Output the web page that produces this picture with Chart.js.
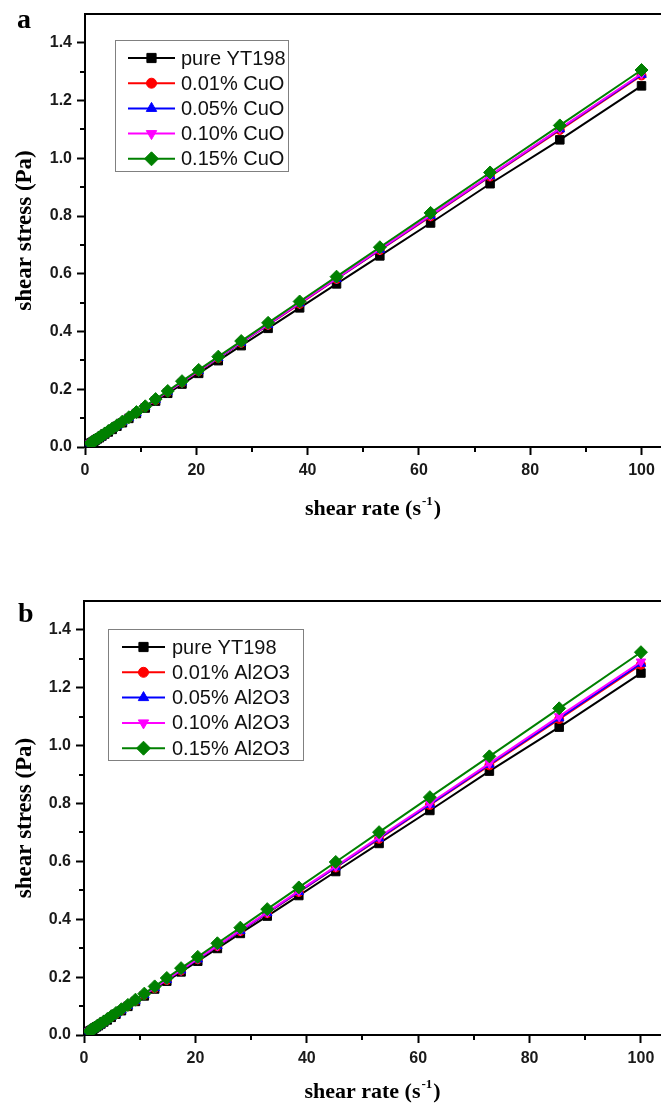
<!DOCTYPE html>
<html>
<head>
<meta charset="utf-8">
<title>Shear stress vs shear rate</title>
<script src="https://cdn.jsdelivr.net/npm/chart.js@4.4.0/dist/chart.umd.min.js"></script>
<style>
  html, body { margin: 0; padding: 0; background: #fff; }
  #wrap { position: relative; width: 661px; height: 1107px; overflow: hidden; }
  canvas { position: absolute; left: 0; }
  #chartCuO { top: 0; }
  #chartAl { top: 553px; }
</style>
</head>
<body>
<div id="wrap">
  <canvas id="chartCuO" width="661" height="553"></canvas>
  <canvas id="chartAl" width="661" height="554"></canvas>
</div>
<script>
// shear rate sweep used for every sample (s^-1)
const shearRate = [1.00, 1.17, 1.37, 1.61, 1.89, 2.21, 2.59, 3.04, 3.56, 4.18,
                   4.89, 5.74, 6.72, 7.88, 9.24, 10.83, 12.69, 14.87, 17.43, 20.43,
                   23.95, 28.07, 32.90, 38.57, 45.20, 52.98, 62.10, 72.79, 85.32, 100.0];

// shear stress (Pa)
const pureYT198 = [0.013, 0.015, 0.017, 0.020, 0.024, 0.028, 0.032, 0.038, 0.045, 0.052,
                   0.061, 0.072, 0.084, 0.099, 0.116, 0.135, 0.159, 0.186, 0.218, 0.255,
                   0.299, 0.351, 0.411, 0.482, 0.565, 0.662, 0.776, 0.912, 1.064, 1.251];

const cuo001 = [0.013, 0.015, 0.018, 0.021, 0.024, 0.028, 0.033, 0.039, 0.046, 0.054,
                0.063, 0.074, 0.086, 0.101, 0.119, 0.139, 0.163, 0.191, 0.224, 0.263,
                0.308, 0.361, 0.423, 0.496, 0.582, 0.682, 0.799, 0.937, 1.098, 1.287];
const cuo005 = [0.013, 0.015, 0.018, 0.021, 0.024, 0.029, 0.033, 0.039, 0.046, 0.054,
                0.063, 0.074, 0.087, 0.102, 0.119, 0.140, 0.164, 0.192, 0.225, 0.264,
                0.309, 0.362, 0.424, 0.498, 0.583, 0.684, 0.801, 0.939, 1.101, 1.290];
const cuo010 = [0.013, 0.015, 0.018, 0.021, 0.024, 0.029, 0.033, 0.039, 0.046, 0.054,
                0.063, 0.074, 0.087, 0.102, 0.119, 0.140, 0.164, 0.192, 0.225, 0.264,
                0.310, 0.363, 0.425, 0.499, 0.584, 0.685, 0.803, 0.941, 1.103, 1.293];
const cuo015 = [0.013, 0.015, 0.018, 0.021, 0.025, 0.029, 0.034, 0.040, 0.047, 0.055,
                0.064, 0.075, 0.088, 0.103, 0.121, 0.141, 0.166, 0.194, 0.228, 0.267,
                0.313, 0.367, 0.430, 0.504, 0.590, 0.692, 0.811, 0.951, 1.114, 1.306];

const al001 = [0.013, 0.015, 0.018, 0.021, 0.024, 0.028, 0.033, 0.039, 0.046, 0.054,
               0.063, 0.073, 0.086, 0.101, 0.118, 0.139, 0.162, 0.190, 0.223, 0.262,
               0.307, 0.359, 0.421, 0.494, 0.579, 0.678, 0.795, 0.932, 1.092, 1.280];
const al005 = [0.013, 0.015, 0.018, 0.021, 0.024, 0.028, 0.033, 0.039, 0.046, 0.054,
               0.063, 0.074, 0.086, 0.101, 0.119, 0.139, 0.163, 0.191, 0.224, 0.262,
               0.308, 0.360, 0.422, 0.495, 0.580, 0.680, 0.797, 0.935, 1.095, 1.284];
const al010 = [0.013, 0.015, 0.018, 0.021, 0.024, 0.029, 0.033, 0.039, 0.046, 0.054,
               0.063, 0.074, 0.087, 0.102, 0.119, 0.140, 0.164, 0.192, 0.225, 0.264,
               0.309, 0.362, 0.424, 0.498, 0.583, 0.684, 0.801, 0.939, 1.101, 1.290];
const al015 = [0.013, 0.016, 0.018, 0.021, 0.025, 0.029, 0.034, 0.040, 0.047, 0.055,
               0.065, 0.076, 0.089, 0.104, 0.122, 0.143, 0.168, 0.197, 0.231, 0.270,
               0.317, 0.371, 0.435, 0.510, 0.598, 0.701, 0.822, 0.963, 1.129, 1.323];

const cuoLabels = ['pure YT198', '0.01% CuO', '0.05% CuO', '0.10% CuO', '0.15% CuO'];
const alLabels = ['pure YT198', '0.01% Al2O3', '0.05% Al2O3', '0.10% Al2O3', '0.15% Al2O3'];

const xTicks = [0, 20, 40, 60, 80, 100];
const xMinorTicks = [10, 30, 50, 70, 90];
const yTicks = [0, 0.2, 0.4, 0.6, 0.8, 1.0, 1.2, 1.4];
const yMinorTicks = [0.1, 0.3, 0.5, 0.7, 0.9, 1.1, 1.3];

const seriesStyle = [
  { color: '#000000', pointStyle: 'rect', radius: 6, rotation: 0 },
  { color: '#ff0000', pointStyle: 'circle', radius: 4.5, rotation: 0 },
  { color: '#0000ff', pointStyle: 'triangle', radius: 5.5, rotation: 0 },
  { color: '#ff00ff', pointStyle: 'triangle', radius: 5.5, rotation: 180 },
  { color: '#008000', pointStyle: 'rectRot', radius: 6.5, rotation: 0 }
];

const tickFont = { family: '"Liberation Sans", Arial, sans-serif', size: 16, weight: 'bold' };
const titleFamily = '"Liberation Serif", "Times New Roman", serif';

function buildDatasets(labels, series) {
  return series.map((vals, i) => {
    const st = seriesStyle[i];
    return {
      label: labels[i],
      data: shearRate.map((x, k) => ({ x: x, y: vals[k] })),
      borderColor: st.color,
      backgroundColor: st.color,
      borderWidth: 2,
      tension: 0,
      pointStyle: st.pointStyle,
      pointRadius: st.radius,
      pointRotation: st.rotation,
      pointBorderWidth: 1,
      pointBorderColor: st.color,
      pointBackgroundColor: st.color,
      // last series sits on top
      order: series.length - 1 - i
    };
  });
}

// top frame, minor ticks, panel letter, x title and the boxed legend
const panelDecor = {
  id: 'panelDecor',
  afterDraw(chart, args, opts) {
    const ctx = chart.ctx;
    const area = chart.chartArea;
    const sx = chart.scales.x, sy = chart.scales.y;
    ctx.save();

    ctx.strokeStyle = '#000';
    ctx.lineWidth = 2;
    ctx.beginPath();
    ctx.moveTo(area.left - 1, area.top);
    ctx.lineTo(chart.width, area.top);
    ctx.stroke();

    ctx.beginPath();
    xMinorTicks.forEach(v => {
      const px = Math.round(sx.getPixelForValue(v));
      ctx.moveTo(px, area.bottom);
      ctx.lineTo(px, area.bottom + 5);
    });
    yMinorTicks.forEach(v => {
      const py = Math.round(sy.getPixelForValue(v));
      ctx.moveTo(area.left, py);
      ctx.lineTo(area.left - 5, py);
    });
    ctx.stroke();

    ctx.fillStyle = '#000';
    ctx.textAlign = 'left';
    ctx.textBaseline = 'alphabetic';
    ctx.font = 'bold 28px ' + titleFamily;
    ctx.fillText(opts.letter, opts.letterX, opts.letterY);

    // "shear rate (s-1)" with a raised exponent
    const mainTxt = 'shear rate (s', supTxt = '-1', endTxt = ')';
    const mainFont = 'bold 22px ' + titleFamily, supFont = 'bold 13px ' + titleFamily;
    ctx.font = mainFont;
    const wMain = ctx.measureText(mainTxt).width, wEnd = ctx.measureText(endTxt).width;
    ctx.font = supFont;
    const wSup = ctx.measureText(supTxt).width;
    let tx = (area.left + area.right) / 2 - (wMain + wSup + wEnd + 2) / 2;
    ctx.font = mainFont;
    ctx.fillText(mainTxt, tx, opts.xTitleY);
    tx += wMain + 1;
    ctx.font = supFont;
    ctx.fillText(supTxt, tx, opts.xTitleY - 10);
    tx += wSup + 1;
    ctx.font = mainFont;
    ctx.fillText(endTxt, tx, opts.xTitleY);

    const lg = opts.legend;
    ctx.lineWidth = 1;
    ctx.strokeStyle = '#808080';
    ctx.strokeRect(lg.x + 0.5, lg.y + 0.5, lg.w, lg.h);
    ctx.textBaseline = 'middle';
    ctx.font = '20px "Liberation Sans", Arial, sans-serif';
    chart.data.datasets.forEach((ds, i) => {
      const st = seriesStyle[i];
      const ry = lg.rowY + i * lg.rowGap;
      ctx.strokeStyle = st.color;
      ctx.fillStyle = st.color;
      ctx.lineWidth = 2;
      ctx.beginPath();
      ctx.moveTo(lg.lineX1, ry);
      ctx.lineTo(lg.lineX2, ry);
      ctx.stroke();
      ctx.lineWidth = 1;
      Chart.helpers.drawPoint(ctx, {
        pointStyle: st.pointStyle, rotation: st.rotation, radius: st.radius + 0.5, borderWidth: 1
      }, (lg.lineX1 + lg.lineX2) / 2, ry);
      ctx.fillStyle = '#111';
      ctx.fillText(ds.label, lg.textX, ry + 1);
    });

    ctx.restore();
  }
};

function makeChart(canvasId, datasets, frame, decor) {
  return new Chart(document.getElementById(canvasId), {
    type: 'line',
    data: { datasets: datasets },
    options: {
      responsive: false,
      animation: false,
      devicePixelRatio: 1,
      layout: { autoPadding: false, padding: { top: frame.top, left: 0, right: 0, bottom: 0 } },
      plugins: {
        legend: { display: false },
        tooltip: { enabled: false },
        panelDecor: decor
      },
      scales: {
        x: {
          type: 'linear',
          min: 0,
          max: frame.xMax,
          afterFit: s => {
            s.height = frame.xAxisHeight;
            s.paddingLeft = 0;
            s.paddingRight = 0;
          },
          afterBuildTicks: s => { s.ticks = xTicks.map(v => ({ value: v })); },
          border: { display: true, color: '#000', width: 2 },
          grid: { drawOnChartArea: false, drawTicks: true, tickLength: 8, tickWidth: 2, tickColor: '#000' },
          ticks: { font: tickFont, color: '#1a1a1a', padding: 6, maxRotation: 0,
                   callback: v => String(v) }
        },
        y: {
          type: 'linear',
          min: 0,
          max: 1.5,
          afterFit: s => {
            s.width = frame.yAxisWidth;
            s.paddingTop = 0;
            s.paddingBottom = 0;
          },
          afterBuildTicks: s => { s.ticks = yTicks.map(v => ({ value: v })); },
          border: { display: true, color: '#000', width: 2 },
          grid: { drawOnChartArea: false, drawTicks: true, tickLength: 8, tickWidth: 2, tickColor: '#000' },
          ticks: { font: tickFont, color: '#1a1a1a', padding: 5,
                   callback: v => Number(v).toFixed(1) },
          title: {
            display: true,
            text: 'shear stress (Pa)',
            color: '#000',
            font: { family: titleFamily, size: 23, weight: 'bold' },
            padding: { top: 11, bottom: 0 }
          }
        }
      }
    },
    plugins: [panelDecor]
  });
}

makeChart('chartCuO',
  buildDatasets(cuoLabels, [pureYT198, cuo001, cuo005, cuo010, cuo015]),
  { top: 14, xAxisHeight: 106, yAxisWidth: 85, xMax: 103.5 },
  { letter: 'a', letterX: 17, letterY: 28, xTitleY: 515,
    legend: { x: 115, y: 40, w: 173, h: 131, rowY: 58, rowGap: 25.2,
              lineX1: 128, lineX2: 175, textX: 181 } });

makeChart('chartAl',
  buildDatasets(alLabels, [pureYT198, al001, al005, al010, al015]),
  { top: 48, xAxisHeight: 72, yAxisWidth: 84, xMax: 103.6 },
  { letter: 'b', letterX: 18, letterY: 69, xTitleY: 545,
    legend: { x: 108, y: 76, w: 195, h: 131, rowY: 94, rowGap: 25.3,
              lineX1: 122, lineX2: 165, textX: 172 } });
</script>
</body>
</html>
